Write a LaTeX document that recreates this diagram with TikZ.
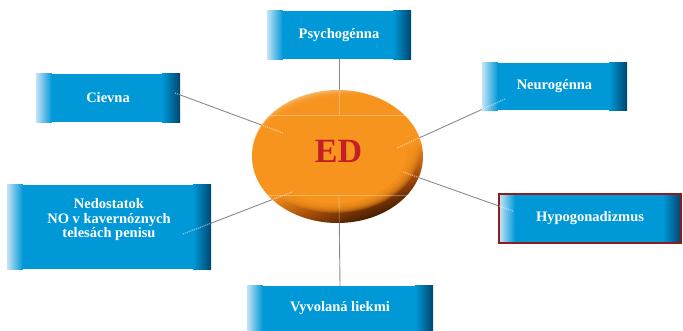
\documentclass[tikz,border=0pt]{standalone}
\usepackage{fontspec}
\setmainfont{Liberation Serif}
\usetikzlibrary{backgrounds,shapes.geometric}
\definecolor{boxblue}{HTML}{0098D7}
\definecolor{boxlight}{HTML}{C8E5F7}
\definecolor{boxdark}{HTML}{00456E}
\definecolor{linegray}{HTML}{8A8A8A}
\definecolor{edorange}{HTML}{F7941E}
\definecolor{edlight}{HTML}{FBC78E}
\definecolor{edmid}{HTML}{A04A08}
\definecolor{eddark}{HTML}{3E1800}
\definecolor{edred}{HTML}{C41E26}
\definecolor{hypored}{HTML}{8E1B1E}
\pgfdeclareverticalshading{edshade}{100bp}{color(0bp)=(eddark); color(25bp)=(eddark); color(34bp)=(edmid); color(45bp)=(edorange); color(68bp)=(edorange); color(75bp)=(edlight); color(100bp)=(edlight)}
\newcommand{\boxbg}[1]{%
  \fill[boxblue] (#1.south west) rectangle (#1.north east);
  \shade[left color=boxlight, right color=boxblue] (#1.south west) rectangle ([xshift=16pt]#1.north west);
  \shade[left color=boxblue, right color=boxdark] ([xshift=-18pt]#1.south east) rectangle (#1.north east);
}
\tikzset{
  bluebox/.style={rectangle, text=white, inner sep=0pt, align=center,
    font=\fontsize{14.5}{14.5}\selectfont\bfseries},
  boxtext/.style={text=white, inner sep=0pt, align=center, font=\fontsize{14.5}{14.5}\selectfont\bfseries},
  edball/.style={ellipse, inner sep=0pt, shading=edshade, shading angle=20},
  edtext/.style={text=edred, inner sep=0pt, font=\fontsize{34}{34}\selectfont\bfseries},
  conn/.style={draw=linegray, line width=0.9pt},
  innerdots/.style={draw=white, opacity=0.5, line width=1.3pt, dash pattern=on 1pt off 1pt},
  faint/.style={draw=white, opacity=0.3, line width=0.8pt},
  softlayer/.style={fill=edorange, opacity=0.3},
}
\begin{document}
\begin{tikzpicture}[x=1pt,y=1pt]
\useasboundingbox (0,0) rectangle (683,331);
% centre ball
\node[edball, minimum width=171pt, minimum height=133pt] (ed) at (337.5,174.5) {};
\foreach \s in {0.98,0.96,0.94,0.92,0.90,0.88,0.86,0.84}{
  \fill[softlayer] (335.5,179) ellipse [x radius=85*\s, y radius=62*\s];
}
\fill[edorange] (335.5,179) ellipse [x radius=85*0.83, y radius=62*0.83];
% boxes (text part)
\node[bluebox, minimum width=144pt, minimum height=48pt] (psy) at (339,296) {Psychogénna};
\node[bluebox, minimum width=144pt, minimum height=48pt] (cie) at (108,233) {Cievna};
\node[bluebox, minimum width=145pt, minimum height=47pt] (neu) at (554.5,244.5) {Neurogénna};
\node[bluebox, minimum width=181.5pt, minimum height=48.5pt] (hyp) at (590,112.5) {Hypogonadizmus};
\node[bluebox, minimum width=204pt, minimum height=84pt] (ned) at (109,104) {};
\node[boxtext] (nedtext) at (109,111) {Nedostatok\\NO v kavernóznych\\telesách penisu};
\node[bluebox, minimum width=186pt, minimum height=45pt] (vyv) at (340,22.5) {Vyvolaná liekmi};
% connector ends inside shapes
\coordinate (psyin) at (339,216);
\coordinate (vyvin) at (339,136);
\coordinate (cieA) at (175,238);
\coordinate (cieB) at (283,198);
\coordinate (neuA) at (505,232);
\coordinate (neuB) at (397,183);
\coordinate (hypA) at (513,120);
\coordinate (hypB) at (403,159);
\coordinate (nedA) at (183,97);
\coordinate (nedB) at (292,139);
\begin{scope}[on background layer]
  \draw[conn] (psy.south) -- (psyin);
  \draw[conn] (vyv.north) -- (vyvin);
  \draw[conn] (cieA) -- (cieB);
  \draw[conn] (neuA) -- (neuB);
  \draw[conn] (hypA) -- (hypB);
  \draw[conn] (nedA) -- (nedB);
  \boxbg{psy}
  \boxbg{cie}
  \boxbg{neu}
  \boxbg{hyp}
  \boxbg{ned}
  \boxbg{vyv}
  \draw[hypored, line width=2.5pt] (hyp.south west) rectangle (hyp.north east);
\end{scope}
% light parts of the connectors over the shapes
\begin{scope}
  \clip (337.5,174.5) ellipse [x radius=85.5, y radius=66.5];
  \draw[faint] (psy.south) -- (psyin);
  \draw[faint] (vyv.north) -- (vyvin);
  \draw[innerdots] (cieA) -- (cieB);
  \draw[innerdots] (neuA) -- (neuB);
  \draw[innerdots] (hypA) -- (hypB);
  \draw[innerdots] (nedA) -- (nedB);
  \draw[faint] (262,216) -- (412,216);
  \draw[faint] (262,136) -- (414,136);
\end{scope}
\begin{scope}
  \clip (cie.south west) rectangle (cie.north east);
  \draw[innerdots] (cieA) -- (cieB);
\end{scope}
\begin{scope}
  \clip (neu.south west) rectangle (neu.north east);
  \draw[innerdots] (neuA) -- (neuB);
\end{scope}
\begin{scope}
  \clip (hyp.south west) rectangle (hyp.north east);
  \draw[innerdots] (hypA) -- (hypB);
\end{scope}
\begin{scope}
  \clip (ned.south west) rectangle (ned.north east);
  \draw[innerdots] (nedA) -- (nedB);
\end{scope}
\node[edtext] (edlabel) at (338.5,179.5) {ED};
\end{tikzpicture}
\end{document}
